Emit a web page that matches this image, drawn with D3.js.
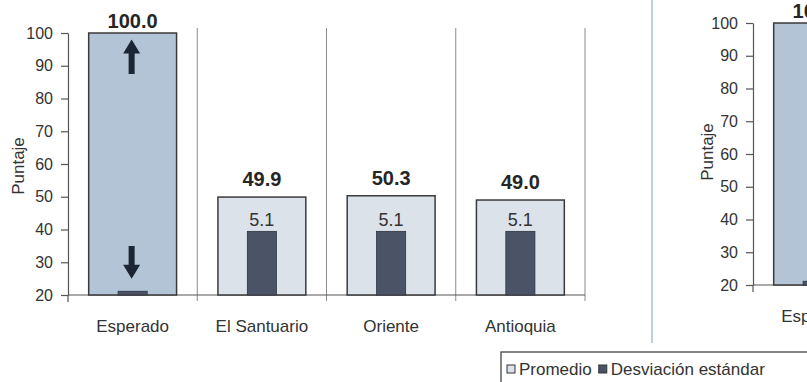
<!DOCTYPE html>
<html>
<head>
<meta charset="utf-8">
<script src="https://cdn.jsdelivr.net/npm/d3@7"></script>
<style>
  html, body { margin: 0; padding: 0; background: #fff; }
  svg { display: block; font-family: "Liberation Sans", Arial, sans-serif; }
</style>
</head>
<body>
<svg id="chart" width="807" height="382"></svg>
<script>
// ---- data ----
const categories = ["Esperado", "El Santuario", "Oriente", "Antioquia"];
const promedio = [100.0, 49.9, 50.3, 49.0];
const desviacion = [0.3, 5.1, 5.1, 5.1];
const showDevLabel = [false, true, true, true];
const yTicks = [20, 30, 40, 50, 60, 70, 80, 90, 100];
const yTitle = "Puntaje";
const legendLabels = ["Promedio", "Desviación estándar"];
// second (cropped) panel
const categories2 = ["Esperado"];
const promedio2 = [100.0];
const desviacion2 = [0.3];
// arrows inside the "Esperado" bar (value from -> value to)
const arrowsFrom = [87.5, 35];
const arrowsTo = [98, 25];

// ---- styles ----
const cFillExp = "#b3c4d6";
const cFillProm = "#dbe2ea";
const cDev = "#4b5466";
const cStroke = "#3a3a3a";
const cText = "#333";

const svg = d3.select("#chart");

function drawPanel(opt) {
  const g = svg.append("g");
  const y = d3.scaleLinear().domain([20, 100]).range([opt.base, opt.top]);
  const yDev = d3.scaleLinear().domain([0, 21]).range([opt.base, opt.top]);
  const x = d3.scaleBand().domain(opt.cats).range([opt.x0, opt.x0 + opt.band * opt.cats.length]);

  // category separators (extend slightly below the baseline)
  g.selectAll("line.sep").data(opt.cats).enter().append("line")
    .attr("x1", d => x(d) + x.bandwidth()).attr("x2", d => x(d) + x.bandwidth())
    .attr("y1", y(101.5)).attr("y2", opt.base + 6)
    .attr("stroke", "#8a8a8a").attr("stroke-width", 1);

  // baseline
  g.append("line").attr("x1", opt.x0).attr("x2", opt.x0 + opt.band * opt.cats.length)
    .attr("y1", opt.base).attr("y2", opt.base)
    .attr("stroke", "#555").attr("stroke-width", 1.2);

  // y axis
  const ax = g.append("g").attr("transform", `translate(${opt.x0},0)`)
    .call(d3.axisLeft(y).tickValues(yTicks).tickSize(7).tickSizeOuter(0).tickPadding(8));
  ax.select(".domain").attr("stroke", "#555").attr("stroke-width", 1.2);
  ax.selectAll(".tick line").attr("stroke", "#555").attr("stroke-width", 1.2);
  ax.selectAll(".tick text").attr("fill", cText).style("font-size", "16px")
    .style("font-family", "'Liberation Sans', Arial, sans-serif");
  g.append("line").attr("x1", opt.x0).attr("x2", opt.x0).attr("y1", opt.base).attr("y2", opt.base + 7)
    .attr("stroke", "#555").attr("stroke-width", 1.2);

  // y title
  g.append("text").attr("transform", `translate(${opt.titleX},${opt.titleY}) rotate(-90)`)
    .attr("text-anchor", "middle").attr("fill", cText).style("font-size", "17px").text(yTitle);

  const barW = x.bandwidth() * 0.68;
  const devW = x.bandwidth() * 0.225;

  // promedio bars
  g.selectAll("rect.prom").data(opt.cats).enter().append("rect")
    .attr("x", d => x(d) + (x.bandwidth() - barW) / 2)
    .attr("width", barW)
    .attr("y", (d, i) => y(opt.prom[i]))
    .attr("height", (d, i) => opt.base - y(opt.prom[i]))
    .attr("fill", (d, i) => i === 0 ? cFillExp : cFillProm)
    .attr("stroke", cStroke).attr("stroke-width", 1.5);

  // desviacion bars
  g.selectAll("rect.dev").data(opt.cats).enter().append("rect")
    .attr("x", d => x(d) + (x.bandwidth() - devW) / 2)
    .attr("width", devW)
    .attr("y", (d, i) => yDev(opt.dev[i]))
    .attr("height", (d, i) => opt.base - yDev(opt.dev[i]))
    .attr("fill", cDev).attr("stroke", "#2e3440").attr("stroke-width", 0.8);

  // promedio labels
  g.selectAll("text.pl").data(opt.cats).enter().append("text")
    .attr("x", d => x(d) + x.bandwidth() / 2)
    .attr("y", (d, i) => Math.max(y(opt.prom[i]) - 11, opt.top - 5))
    .attr("text-anchor", "middle").attr("fill", "#262626")
    .style("font-size", "20px").style("font-weight", "bold")
    .text((d, i) => opt.prom[i].toFixed(1));

  // desviacion labels
  g.selectAll("text.dl").data(opt.cats.filter((d, i) => opt.showDev[i])).enter().append("text")
    .attr("x", d => x(d) + x.bandwidth() / 2)
    .attr("y", d => yDev(opt.dev[opt.cats.indexOf(d)]) - 5)
    .attr("text-anchor", "middle").attr("fill", "#333")
    .style("font-size", "18px")
    .text(d => opt.dev[opt.cats.indexOf(d)].toFixed(1));

  // category labels
  g.selectAll("text.cl").data(opt.cats).enter().append("text")
    .attr("x", d => x(d) + x.bandwidth() / 2)
    .attr("y", opt.base + 37)
    .attr("text-anchor", "middle").attr("fill", cText)
    .style("font-size", "17px")
    .text(d => d);

  return { x, y };
}

// left panel
const p1 = drawPanel({
  cats: categories, prom: promedio, dev: desviacion, showDev: showDevLabel,
  x0: 68, band: 129.25, base: 295, top: 33, titleX: 24, titleY: 166
});

// arrows in Esperado bar
const ax0 = p1.x("Esperado") + p1.x.bandwidth() / 2 - 1;
arrowsFrom.forEach((from, i) => {
  const to = arrowsTo[i];
  const yF = p1.y(from), yT = p1.y(to);
  const dir = yT < yF ? -1 : 1;
  const headH = 14, headW = 8.5, shaftW = 3;
  const yHeadBase = yT - dir * headH;
  const path = d3.path();
  path.moveTo(ax0 - shaftW, yF);
  path.lineTo(ax0 - shaftW, yHeadBase);
  path.lineTo(ax0 - headW, yHeadBase);
  path.lineTo(ax0, yT);
  path.lineTo(ax0 + headW, yHeadBase);
  path.lineTo(ax0 + shaftW, yHeadBase);
  path.lineTo(ax0 + shaftW, yF);
  path.closePath();
  svg.append("path").attr("d", path.toString()).attr("fill", "#1c2533");
});

// right (cropped) panel
drawPanel({
  cats: categories2, prom: promedio2, dev: desviacion2, showDev: [false],
  x0: 753, band: 129.25, base: 285, top: 23, titleX: 713, titleY: 152
});

// vertical divider between panels
svg.append("line").attr("x1", 652).attr("x2", 652).attr("y1", 0).attr("y2", 343)
  .attr("stroke", "#bccfdf").attr("stroke-width", 2);

// legend
const lg = svg.append("g");
lg.append("rect").attr("x", 501).attr("y", 352).attr("width", 330).attr("height", 45)
  .attr("fill", "#fff").attr("stroke", "#444").attr("stroke-width", 1.3);
let lx = 507;
legendLabels.forEach((lab, i) => {
  lg.append("rect").attr("x", lx).attr("y", 365).attr("width", 8).attr("height", 8)
    .attr("fill", i === 0 ? cFillProm : cDev).attr("stroke", "#333").attr("stroke-width", 1);
  const t = lg.append("text").attr("x", lx + 12).attr("y", 375).attr("fill", cText)
    .style("font-size", "17px").text(lab);
  lx = lx + 12 + t.node().getComputedTextLength() + 7;
});
</script>
</body>
</html>
